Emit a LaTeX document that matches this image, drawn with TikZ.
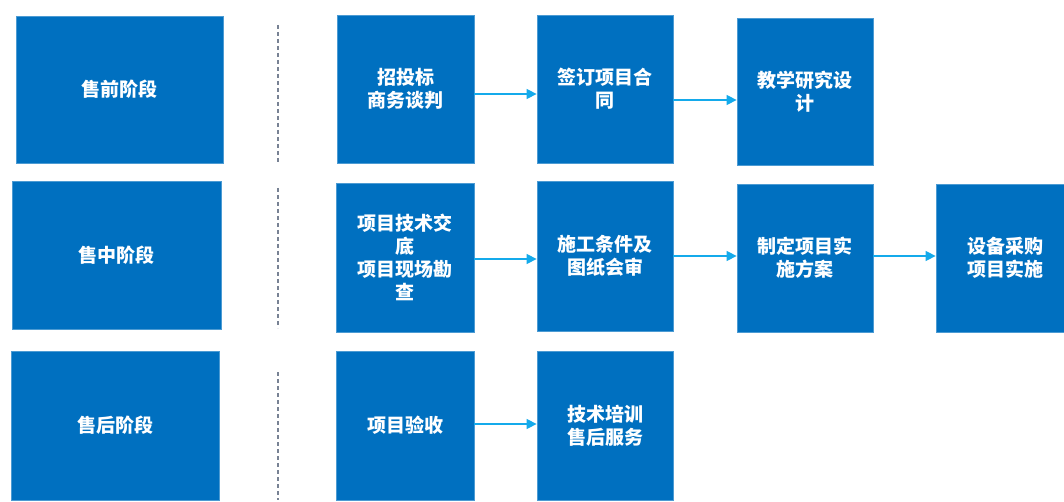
\documentclass[tikz,border=0pt]{standalone}
\usepackage{fontspec}
\newfontfamily\cjk{Noto Sans CJK SC}
\usetikzlibrary{arrows.meta}
\definecolor{boxblue}{RGB}{0,112,192}
\definecolor{arrowblue}{RGB}{20,170,235}
\definecolor{dashgray}{RGB}{120,130,148}
\begin{document}
\begin{tikzpicture}[x=1pt,y=1pt,
  blk/.style={fill=boxblue,draw=boxblue!70!white,line width=0.8pt,text=white,
    font=\cjk\bfseries\fontsize{19}{23}\selectfont,align=center,inner sep=0pt},
  arr/.style={draw=arrowblue,line width=1.4pt,-{Triangle[length=10pt,width=10pt]}},
  sep/.style={draw=dashgray,line width=2pt,dash pattern=on 4pt off 3pt}]
\useasboundingbox (0,-502) rectangle (1064,0);
\clip (0,-502) rectangle (1064,0);
% row 1
\node[blk,minimum width=207,minimum height=147] (s1) at (119.5,-89.5) {售前阶段};
\node[blk,minimum width=137,minimum height=148] (a1) at (405.5,-89) {招投标\\商务谈判};
\node[blk,minimum width=136,minimum height=148] (b1) at (605,-89) {签订项目合\\同};
\node[blk,minimum width=136,minimum height=147] (c1) at (805,-91.5) {教学研究设\\计};
% row 2
\node[blk,minimum width=209,minimum height=148] (s2) at (116.5,-255) {售中阶段};
\node[blk,minimum width=138,minimum height=149] (a2) at (405,-257.5) {项目技术交\\底\\项目现场勘\\查};
\node[blk,minimum width=136,minimum height=150] (b2) at (605,-256) {施工条件及\\图纸会审};
\node[blk,minimum width=136,minimum height=148] (c2) at (805,-258) {制定项目实\\施方案};
\node[blk,minimum width=138,minimum height=148] (d2) at (1005,-258) {设备采购\\项目实施};
% row 3
\node[blk,minimum width=208,minimum height=149] (s3) at (115,-425.5) {售后阶段};
\node[blk,minimum width=138,minimum height=149] (a3) at (405,-425.5) {项目验收};
\node[blk,minimum width=136,minimum height=149] (b3) at (605,-425.5) {技术培训\\售后服务};
% separators
\coordinate (t1) at (278,-25); \coordinate (u1) at (278,-164);
\coordinate (t2) at (278,-188); \coordinate (u2) at (278,-328);
\coordinate (t3) at (278,-372); \coordinate (u3) at (278,-500);
\draw[sep] (t1) -- (u1);
\draw[sep] (t2) -- (u2);
\draw[sep] (t3) -- (u3);
% arrows
\draw[arr] ([yshift=-5]a1.east) -- ([yshift=-5]a1.east -| b1.west);
\draw[arr] ([yshift=-11]b1.east) -- ([yshift=-11]b1.east -| c1.west);
\draw[arr] ([yshift=-1.5]a2.east) -- ([yshift=-1.5]a2.east -| b2.west);
\draw[arr] (b2.east) -- (b2.east -| c2.west);
\draw[arr] ([yshift=2]c2.east) -- ([yshift=2]c2.east -| d2.west);
\draw[arr] ([yshift=1.5]a3.east) -- ([yshift=1.5]a3.east -| b3.west);
\end{tikzpicture}
\end{document}
